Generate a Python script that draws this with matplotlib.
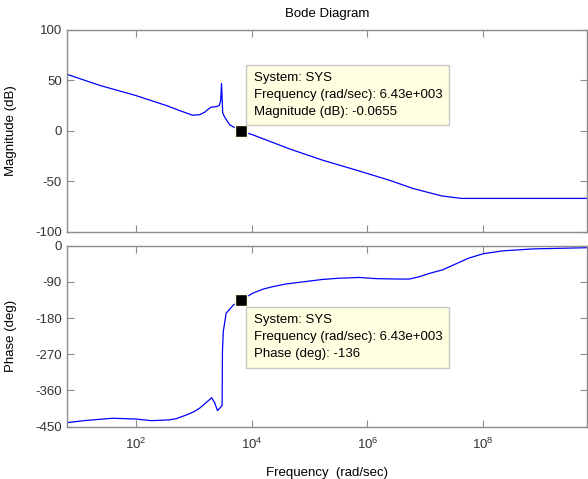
import numpy as np
import matplotlib
matplotlib.use("Agg")
import matplotlib.pyplot as plt

plt.rcParams.update({"font.family": ["Liberation Sans", "DejaVu Sans"]})
plt.rcParams.update({"font.size": 9.5})
plt.rcParams.update({"axes.unicode_minus": False})

magFreq = [6.5, 24, 100, 340, 575, 955, 1260, 1550, 1780, 2000, 2450, 2750,
           2920, 3020, 3100, 3160, 3390, 4170, 6430, 10500, 45700, 1.66e5,
           6.46e5, 2.4e6, 6.0e6, 1.9e7, 4.2e7, 6.3e9]
magDb = [56, 45, 35, 25, 20, 15.5, 16, 18.5, 21.5, 23.5, 24, 25,
         30, 47, 30, 18, 14, 6, -0.0655, -4, -18, -29,
         -39, -49, -57, -64.5, -67, -67]

# phase response
phaseFreq = [6.5, 12.6, 40, 100, 186, 380, 500, 740, 1000, 1260, 1580,
             2040, 2290, 2570, 2820, 3090, 3130, 3240, 3630, 4790, 6430,
             7940, 10500, 15800, 22900, 39800, 67600, 1.66e5, 3.16e5, 7.24e5,
             1.41e6, 3.55e6, 5.25e6, 7.94e6, 1.17e7, 2.0e7, 3.39e7, 5.6e7,
             1.0e8, 2.14e8, 7.24e8, 6.3e9]
phaseDeg = [-440, -435, -429, -431, -435, -433, -430, -421, -413, -404, -392,
            -378, -390, -410, -404, -397, -263, -213, -168, -148, -136,
            -128, -118, -108, -102, -95, -91, -84, -81, -79,
            -82, -83, -83, -77, -69, -60, -45, -31,
            -20, -13, -8, -5]

# data tip
tipFreq = 6430
tipMag = -0.0655
tipPhase = -136

magTicks = [-100, -50, 0, 50, 100]
phaseTicks = [-450, -360, -270, -180, -90, 0]
freqTicks = [1e2, 1e4, 1e6, 1e8]
xLimits = (6.46, 6.2e9)

gray = "#8c8c8c"
tipFace = "#ffffe1"

fig = plt.figure(figsize=(5.88, 4.79), dpi=100)
axMag = fig.add_axes([0.1139, 0.5163, 0.8844, 0.4211])
axPh = fig.add_axes([0.1139, 0.1092, 0.8844, 0.3779])

def styleAxes(ax, yticks):
    ax.set_xscale("log")
    ax.set_xlim(*xLimits)
    ax.set_xticks(freqTicks)
    ax.minorticks_off()
    ax.set_yticks(yticks)
    ax.set_ylim(yticks[0], yticks[-1])
    for s in ax.spines.values():
        s.set_color(gray)
        s.set_linewidth(1.0)
    ax.tick_params(direction="in", length=5, color=gray, labelcolor="#333333",
                   top=True, right=True, width=0.8)

axMag.plot(magFreq, magDb, color="#0000ff", lw=0.9)
styleAxes(axMag, magTicks)
axMag.tick_params(labelbottom=False)
axMag.set_ylabel("Magnitude (dB)")
axMag.yaxis.set_label_coords(-0.096, 0.5)
axMag.set_title("Bode Diagram", fontsize=9.5, pad=9)

axPh.plot(phaseFreq, phaseDeg, color="#0000ff", lw=0.9)
styleAxes(axPh, phaseTicks)
axPh.tick_params(axis="x", pad=7)
axPh.set_ylabel("Phase (deg)")
axPh.yaxis.set_label_coords(-0.096, 0.5)
axPh.set_xlabel("Frequency  (rad/sec)")
axPh.xaxis.set_label_coords(0.5, -0.223)

for ax, val in ((axMag, tipMag), (axPh, tipPhase)):
    ax.plot([tipFreq], [val], marker="s", ms=8, mfc="black", mec=tipFace,
            mew=1.0, clip_on=False, zorder=5)

boxStyle = dict(boxstyle="square,pad=0.55", fc=tipFace, ec="#c8c8c8", lw=1.0)
axMag.annotate("System: SYS\nFrequency (rad/sec): 6.43e+003\nMagnitude (dB): %.3g" % tipMag,
               xy=(tipFreq, tipMag), xytext=(13, 13), textcoords="offset pixels",
               ha="left", va="bottom", linespacing=1.55, bbox=boxStyle, zorder=6)
axPh.annotate("System: SYS\nFrequency (rad/sec): 6.43e+003\nPhase (deg): %d" % tipPhase,
              xy=(tipFreq, tipPhase), xytext=(13, -14), textcoords="offset pixels",
              ha="left", va="top", linespacing=1.55, bbox=boxStyle, zorder=6)

fig.savefig("out.png", dpi=100)
